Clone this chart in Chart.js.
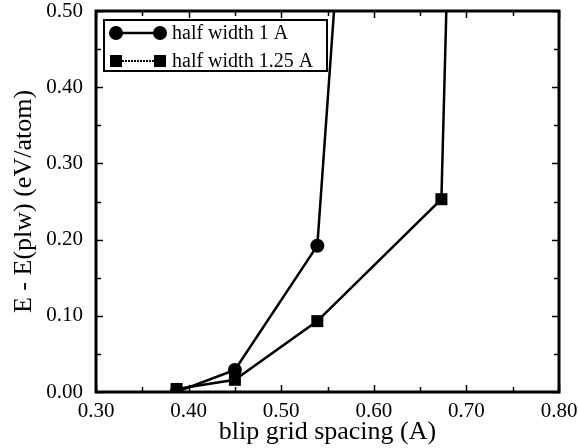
<!DOCTYPE html>
<html>
<head>
<meta charset="utf-8">
<script src="https://cdn.jsdelivr.net/npm/chart.js@4.4.1/dist/chart.umd.min.js"></script>
<style>
  html, body { margin: 0; padding: 0; background: #fff; }
  #wrap { width: 578px; height: 448px; position: relative; }
</style>
</head>
<body>
<div id="wrap"><canvas id="c"></canvas></div>
<script>
// values
const seriesNames = ['half width 1 A', 'half width 1.25 A'];
const spacing1 = [0.387, 0.450, 0.539, 0.600];
const energy1  = [0.000, 0.029, 0.192, 1.234];
const spacing2 = [0.387, 0.450, 0.539, 0.673, 0.700];
const energy2  = [0.004, 0.016, 0.093, 0.253, 1.506];
const xTicks = [0.30, 0.40, 0.50, 0.60, 0.70, 0.80];
const yTicks = [0.00, 0.10, 0.20, 0.30, 0.40, 0.50];

const serif = 'Liberation Serif';
const toPts = (xs, ys) => xs.map((x, i) => ({ x, y: ys[i] }));
const isMajor = v => Math.abs(Math.round(v * 100) % 10) === 0;

// frame + inward ticks on all four sides, then the boxed legend
const framePlugin = {
  id: 'frame',
  afterDraw(chart) {
    const { ctx, chartArea: a, scales: { x, y } } = chart;
    ctx.save();
    ctx.strokeStyle = '#000';
    ctx.lineWidth = 1.5;
    ctx.beginPath();
    x.ticks.forEach(t => {
      const px = Math.round(x.getPixelForValue(t.value)) + 0.5;
      const len = isMajor(t.value) ? 7 : 5;
      ctx.moveTo(px, a.bottom); ctx.lineTo(px, a.bottom - len);
      ctx.moveTo(px, a.top); ctx.lineTo(px, a.top + len);
    });
    y.ticks.forEach(t => {
      const py = Math.round(y.getPixelForValue(t.value)) + 0.5;
      const len = isMajor(t.value) ? 7 : 5;
      ctx.moveTo(a.left, py); ctx.lineTo(a.left + len, py);
      ctx.moveTo(a.right, py); ctx.lineTo(a.right - len, py);
    });
    ctx.stroke();
    ctx.lineWidth = 3;
    ctx.strokeRect(a.left, a.top, a.right - a.left, a.bottom - a.top);

    // legend
    const bx = a.left + 8, by = a.top + 9, bw = 223, bh = 51;
    ctx.fillStyle = '#fff';
    ctx.fillRect(bx, by, bw, bh);
    ctx.lineWidth = 2;
    ctx.strokeRect(bx, by, bw, bh);
    chart.data.datasets.forEach((ds, i) => {
      const ry = by + 13 + i * 28;
      const x0 = bx + 12, x1 = bx + 56;
      ctx.lineWidth = i === 0 ? 2.5 : 2;
      ctx.setLineDash(i === 0 ? [] : [2, 1]);
      ctx.beginPath(); ctx.moveTo(x0, ry); ctx.lineTo(x1, ry); ctx.stroke();
      ctx.setLineDash([]);
      ctx.fillStyle = '#000';
      [x0, x1].forEach(px => Chart.helpers.drawPoint(ctx, {
        pointStyle: ds.pointStyle, radius: ds.pointRadius, borderWidth: 0
      }, px, ry));
      ctx.font = '20px "' + serif + '"';
      ctx.textBaseline = 'middle';
      ctx.fillText(ds.label, bx + 68, ry + 1);
    });
    ctx.restore();
  }
};

new Chart(document.getElementById('c'), {
  type: 'scatter',
  data: {
    datasets: [
      { label: seriesNames[0], data: toPts(spacing1, energy1), showLine: true,
        borderColor: '#000', backgroundColor: '#000', borderWidth: 2.5,
        pointStyle: 'circle', pointRadius: 7, pointBorderWidth: 0, order: 0 },
      { label: seriesNames[1], data: toPts(spacing2, energy2), showLine: true,
        borderColor: '#000', backgroundColor: '#000', borderWidth: 2.5,
        pointStyle: 'rect', pointRadius: 8.5, pointBorderWidth: 0, order: 1 }
    ]
  },
  options: {
    responsive: true,
    maintainAspectRatio: false,
    animation: false,
    layout: { padding: { left: 0, right: 19, top: 11, bottom: 0 } },
    plugins: { legend: { display: false }, tooltip: { enabled: false } },
    scales: {
      x: {
        type: 'linear', min: xTicks[0], max: xTicks[xTicks.length - 1],
        grid: { display: false, drawTicks: false },
        border: { display: false },
        afterFit: s => { s.height = 56; s.paddingLeft = 0; s.paddingRight = 0; },
        ticks: {
          stepSize: 0.05, autoSkip: false, maxRotation: 0, padding: 7,
          color: '#000', font: { family: serif, size: 21 },
          callback: v => isMajor(v) ? v.toFixed(2) : ''
        },
        title: { display: true, text: 'blip grid spacing (A)', color: '#000',
          font: { family: serif, size: 26 }, padding: { top: 0, bottom: 0 } }
      },
      y: {
        type: 'linear', min: yTicks[0], max: yTicks[yTicks.length - 1],
        grid: { display: false, drawTicks: false },
        border: { display: false },
        afterFit: s => { s.width = 96; s.paddingTop = 0; s.paddingBottom = 0; },
        ticks: {
          stepSize: 0.05, autoSkip: false, padding: 13,
          color: '#000', font: { family: serif, size: 21 },
          callback: v => isMajor(v) ? v.toFixed(2) : ''
        },
        title: { display: true, text: 'E - E(plw) (eV/atom)', color: '#000',
          font: { family: serif, size: 26 }, padding: { top: 9, bottom: 9 } }
      }
    }
  },
  plugins: [framePlugin]
});
</script>
</body>
</html>
